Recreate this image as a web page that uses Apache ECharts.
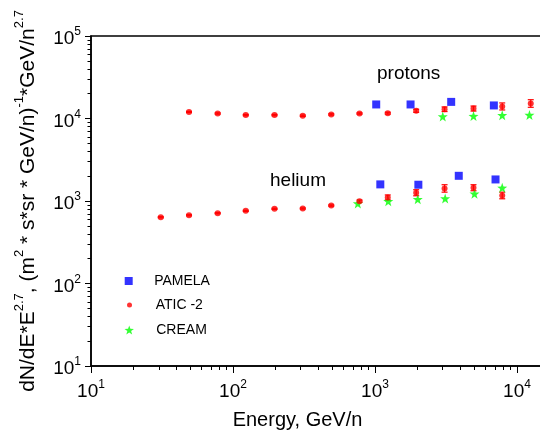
<!DOCTYPE html>
<html>
<head>
<meta charset="utf-8">
<script src="https://cdn.jsdelivr.net/npm/echarts@6/dist/echarts.min.js"></script>
<style>
  html, body { margin: 0; padding: 0; background: #fff; }
  #chart { width: 540px; height: 431px; }
</style>
</head>
<body>
<div id="chart"></div>
<script>
// energies in GeV/n, flux in dN/dE*E^2.7 units
var aticProtonE = [49, 78, 123, 196, 310, 492, 778, 1230, 1950, 3090, 4940, 7870, 12500];
var aticProtonF = [12000, 11500, 11000, 11000, 10800, 11200, 11500, 11600, 12400, 12950, 13200, 14000, 15200];
var aticProtonLo = [11800, 11300, 10800, 10800, 10600, 11000, 11300, 11300, 11890, 12140, 12310, 12690, 13670];
var aticProtonHi = [12200, 11700, 11200, 11200, 11000, 11400, 11700, 11900, 12930, 13810, 14160, 15440, 16900];

var aticHeliumE = [31, 49, 78, 123, 196, 310, 492, 778, 1230, 1950, 3090, 4940, 7870];
var aticHeliumF = [635, 671, 711, 760, 804, 811, 881, 995, 1104, 1259, 1420, 1448, 1167];
var aticHeliumLo = [625, 661, 700, 748, 791, 798, 866, 965, 1030, 1157, 1280, 1331, 1064];
var aticHeliumHi = [645, 681, 722, 772, 817, 824, 896, 1026, 1184, 1370, 1575, 1575, 1280];

var pamelaProtonE = [1020, 1780, 3440, 6870];
var pamelaProtonF = [14800, 14800, 15900, 14400];
var pamelaHeliumE = [1090, 2020, 3890, 7060];
var pamelaHeliumF = [1590, 1575, 2020, 1825];

var creamProtonE = [3000, 4940, 7870, 12240];
var creamProtonF = [10600, 10700, 10960, 11050];
var creamHeliumE = [757, 1240, 2000, 3120, 5020, 7870];
var creamHeliumF = [933, 995, 1052, 1072, 1224, 1445];

var xMajor = [10, 100, 1000, 10000];
var yMajor = [10, 100, 1000, 10000, 100000];

var FONT = '"Liberation Sans", Arial, sans-serif';
var STAR = 'path://M0,-10L2.35,-3.24L9.51,-3.09L3.8,1.24L5.88,8.09L0,4L-5.88,8.09L-3.8,1.24L-9.51,-3.09L-2.35,-3.24Z';
var SQUARE = 'path://M0,0L10,0L10,10L0,10Z';

function zip(xs, ys) {
  return xs.map(function (x, i) { return [x, ys[i]]; });
}
function zip3(xs, lo, hi) {
  return xs.map(function (x, i) { return [x, lo[i], hi[i]]; });
}
function minors(majors, max) {
  var out = [];
  majors.forEach(function (m) {
    for (var k = 2; k <= 9; k++) {
      if (k * m <= max) out.push(k * m);
    }
  });
  return out;
}
function powLabel(v) {
  return '10{s|' + Math.round(Math.log10(v)) + '}';
}

var labelRich = { s: { fontSize: 12, verticalAlign: 'top', fontFamily: FONT, color: '#000' } };
var legendText = { fontSize: 14, color: '#000' };

var chart = echarts.init(document.getElementById('chart'));
chart.setOption({
  animation: false,
  backgroundColor: '#fff',
  textStyle: { fontFamily: FONT },
  grid: {
    left: 91, top: 36, right: -2, bottom: 65,
    outerBoundsMode: 'none',
    show: true, borderColor: '#000', borderWidth: 1.5
  },
  xAxis: [{
    type: 'log', min: 10, max: 15000,
    name: 'Energy, GeV/n', nameLocation: 'middle', nameGap: 44,
    nameTextStyle: { fontSize: 20, color: '#000', padding: [0, 38, 0, 0] },
    axisLine: { lineStyle: { color: '#000', width: 1.5 } },
    axisTick: { customValues: xMajor, length: 7, lineStyle: { color: '#000', width: 1 } },
    axisLabel: {
      customValues: xMajor, formatter: powLabel, fontSize: 19, color: '#000',
      lineHeight: 26, margin: 13, rich: labelRich
    },
    splitLine: { show: false }
  }, {
    type: 'log', min: 10, max: 15000, position: 'bottom',
    axisLine: { show: false },
    axisTick: { customValues: minors(xMajor, 15000), length: 4, lineStyle: { color: '#000', width: 1 } },
    axisLabel: { show: false },
    splitLine: { show: false }
  }],
  yAxis: [{
    type: 'log', min: 10, max: 100000,
    name: 'dN/dE*E{s|2.7}, (m{s|2} * s*sr * GeV/n){s|-1}*GeV/n{s|2.7}',
    nameLocation: 'middle', nameGap: 46,
    nameTextStyle: {
      fontSize: 21, color: '#000', lineHeight: 29,
      rich: { s: { fontSize: 13, verticalAlign: 'top', color: '#000' } }
    },
    axisLine: { lineStyle: { color: '#000', width: 1.5 } },
    axisTick: { customValues: yMajor, length: 6, lineStyle: { color: '#000', width: 1 } },
    axisLabel: {
      customValues: yMajor, formatter: powLabel, fontSize: 19, color: '#000',
      lineHeight: 26, margin: 10, padding: [6, 0, 0, 0], rich: labelRich
    },
    splitLine: { show: false }
  }, {
    type: 'log', min: 10, max: 100000, position: 'left',
    axisLine: { show: false },
    axisTick: { customValues: minors(yMajor, 100000), length: 3.5, lineStyle: { color: '#000', width: 1 } },
    axisLabel: { show: false },
    splitLine: { show: false }
  }],
  legend: [{
    data: [{ name: 'PAMELA', icon: SQUARE }], left: 124.7, top: 274, padding: 0,
    itemWidth: 41, itemHeight: 8, textStyle: legendText
  }, {
    data: ['ATIC -2'], left: 127, top: 298, padding: 0,
    itemWidth: 42.4, itemHeight: 5, textStyle: legendText
  }, {
    data: ['CREAM'], left: 124.5, top: 323, padding: 0,
    itemWidth: 44, itemHeight: 9, textStyle: legendText
  }],
  graphic: [{
    type: 'text', left: 377, top: 64,
    style: { text: 'protons', font: '19px ' + FONT, fill: '#000' }
  }, {
    type: 'text', left: 270, top: 171,
    style: { text: 'helium', font: '19px ' + FONT, fill: '#000' }
  }],
  series: [{
    name: 'CREAM', type: 'scatter', symbol: STAR, symbolSize: 10,
    itemStyle: { color: '#00ff00' },
    data: zip(creamProtonE, creamProtonF).concat(zip(creamHeliumE, creamHeliumF))
  }, {
    name: 'ATIC errors', type: 'custom',
    data: zip3(aticProtonE, aticProtonLo, aticProtonHi).concat(zip3(aticHeliumE, aticHeliumLo, aticHeliumHi)),
    renderItem: function (params, api) {
      var top = api.coord([api.value(0), api.value(2)]);
      var bot = api.coord([api.value(0), api.value(1)]);
      var w = 3;
      var st = { stroke: '#ff0000', lineWidth: 1.2 };
      return {
        type: 'group',
        children: [
          { type: 'line', shape: { x1: top[0], y1: top[1], x2: bot[0], y2: bot[1] }, style: st },
          { type: 'line', shape: { x1: top[0] - w, y1: top[1], x2: top[0] + w, y2: top[1] }, style: st },
          { type: 'line', shape: { x1: bot[0] - w, y1: bot[1], x2: bot[0] + w, y2: bot[1] }, style: st }
        ]
      };
    }
  }, {
    name: 'ATIC -2', type: 'scatter', symbol: 'circle', symbolSize: 6,
    itemStyle: { color: '#ff0000' },
    data: zip(aticProtonE, aticProtonF).concat(zip(aticHeliumE, aticHeliumF))
  }, {
    name: 'PAMELA', type: 'scatter', symbol: 'rect', symbolSize: 8,
    itemStyle: { color: '#0000ff' },
    data: zip(pamelaProtonE, pamelaProtonF).concat(zip(pamelaHeliumE, pamelaHeliumF))
  }]
});
</script>
</body>
</html>
